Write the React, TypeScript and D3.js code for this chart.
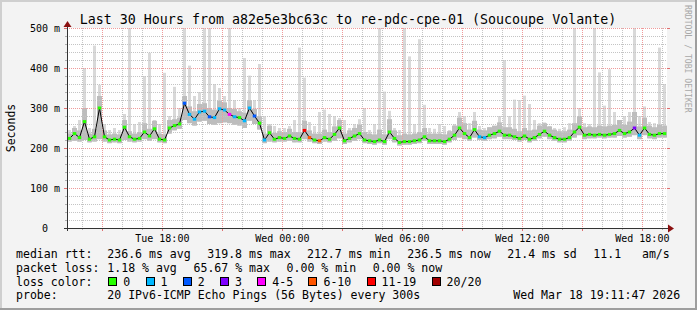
import React from "react";
import * as d3 from "d3";

// ---- data (15-minute bins over the last 30 hours) ----
const medianRtt = [
  224, 236, 226, 266, 222, 228, 300, 228, 220, 222,
  220, 252, 228, 222, 224, 240, 230, 248, 222, 220,
  250, 256, 260, 312, 284, 272, 290, 292, 278, 276,
  298, 295, 284, 278, 276, 268, 300, 280, 262, 220,
  238, 222, 226, 224, 230, 224, 222, 244, 226, 220,
  218, 226, 222, 234, 250, 218, 224, 230, 236, 220,
  218, 216, 220, 216, 240, 224, 214, 216, 216, 218,
  220, 228, 218, 218, 218, 216, 222, 232, 250, 236,
  226, 246, 228, 226, 232, 236, 242, 232, 232, 228,
  224, 230, 222, 226, 234, 242, 232, 226, 222, 222,
  226, 240, 252, 232, 234, 232, 234, 232, 234, 236,
  244, 236, 240, 250, 232, 250, 234, 232, 236, 236,
];

const lossPings = [
  0, 0, 0, 0, 0, 0, 0, 0, 0, 0,
  0, 0, 0, 0, 0, 0, 0, 0, 0, 0,
  0, 0, 0, 2, 1, 1, 1, 1, 2, 1,
  1, 1, 4, 1, 0, 1, 1, 2, 0, 1,
  0, 0, 0, 0, 0, 0, 0, 15, 8, 0,
  8, 0, 0, 0, 0, 0, 0, 0, 0, 0,
  0, 0, 0, 0, 0, 0, 0, 0, 0, 0,
  0, 0, 0, 0, 0, 0, 0, 0, 0, 0,
  0, 0, 1, 1, 0, 0, 0, 0, 0, 0,
  0, 0, 0, 0, 0, 0, 0, 0, 0, 0,
  0, 0, 0, 0, 0, 0, 0, 0, 0, 0,
  0, 0, 0, 3, 1, 0, 0, 0, 0, 0,
];

const smokeLo = [
  216, 218, 216, 220, 214, 216, 222, 216, 212, 214,
  212, 220, 216, 214, 216, 222, 218, 222, 214, 212,
  236, 244, 248, 270, 262, 256, 266, 268, 260, 258,
  262, 264, 262, 258, 256, 250, 268, 260, 246, 212,
  216, 214, 216, 216, 218, 214, 214, 222, 216, 212,
  210, 216, 214, 218, 224, 210, 214, 218, 222, 212,
  210, 208, 212, 208, 222, 214, 206, 208, 208, 210,
  212, 218, 210, 210, 210, 208, 214, 220, 226, 222,
  218, 226, 220, 218, 222, 224, 228, 222, 222, 220,
  216, 220, 214, 218, 224, 228, 222, 218, 214, 214,
  218, 226, 232, 222, 224, 224, 226, 224, 226, 226,
  230, 226, 228, 232, 222, 232, 224, 222, 226, 226,
];

const smokeHi = [
  236, 250, 244, 300, 236, 248, 330, 244, 234, 236,
  234, 270, 242, 236, 240, 262, 248, 268, 236, 234,
  270, 272, 276, 330, 304, 292, 310, 312, 300, 296,
  318, 314, 300, 298, 292, 288, 320, 298, 280, 236,
  256, 238, 242, 240, 248, 240, 240, 268, 244, 236,
  236, 246, 240, 254, 270, 236, 244, 250, 258, 240,
  236, 234, 246, 234, 272, 244, 232, 236, 234, 236,
  240, 250, 236, 236, 236, 234, 242, 256, 276, 262,
  246, 268, 246, 244, 252, 256, 264, 252, 252, 248,
  242, 250, 244, 246, 256, 262, 254, 246, 242, 242,
  246, 262, 280, 252, 254, 252, 256, 254, 256, 258,
  270, 258, 266, 290, 254, 276, 256, 252, 258, 256,
];

const pingMax = [
  245, 255, 270, 400, 250, 456, 358, 260, 245, 250,
  245, 285, 500, 260, 265, 380, 438, 270, 260, 388,
  280, 353, 300, 500, 406, 330, 340, 500, 500, 360,
  350, 330, 500, 320, 300, 425, 381, 320, 410, 280,
  260, 255, 250, 250, 255, 270, 451, 376, 265, 255,
  290, 296, 285, 280, 275, 270, 250, 260, 272, 300,
  245, 260, 500, 341, 293, 250, 245, 500, 429, 260,
  472, 308, 250, 248, 260, 255, 245, 260, 290, 280,
  262, 290, 255, 250, 252, 255, 280, 420, 280, 321,
  320, 331, 310, 270, 262, 264, 255, 250, 248, 252,
  262, 500, 300, 262, 260, 500, 389, 306, 397, 290,
  265, 280, 290, 500, 280, 304, 265, 262, 451, 360,
];

const yTickValues = [0, 100, 200, 300, 400, 500];
const yTickLabels = ["0", "100 m", "200 m", "300 m", "400 m", "500 m"];
const xTickTimes = [
  new Date(2026, 2, 17, 18, 0, 0),
  new Date(2026, 2, 18, 0, 0, 0),
  new Date(2026, 2, 18, 6, 0, 0),
  new Date(2026, 2, 18, 12, 0, 0),
  new Date(2026, 2, 18, 18, 0, 0),
];
const xTickLabels = ["Tue 18:00", "Wed 00:00", "Wed 06:00", "Wed 12:00", "Wed 18:00"];

const lossLabels = ["0", "1", "2", "3", "4-5", "6-10", "11-19", "20/20"];
const lossUpper = [0, 1, 2, 3, 5, 10, 19, 20];
const lossColors = ["#26ff00", "#00b8ff", "#0059ff", "#7e00ff", "#ff00ff", "#ff5500", "#ff0000", "#a10000"];

const titleText = "Last 30 Hours from a82e5e3bc63c to re-pdc-cpe-01 (Soucoupe Volante)";
const legendRow1 = ["median rtt:", "236.6 ms avg", "319.8 ms max", "212.7 ms min", "236.5 ms now", "21.4 ms sd", "11.1   am/s"];
const legendRow2 = ["packet loss:", "1.18 % avg", "65.67 % max", "0.00 % min", "0.00 % now"];
const probeText = "20 IPv6-ICMP Echo Pings (56 Bytes) every 300s";
const stampText = "Wed Mar 18 19:11:47 2026";

const START = new Date(2026, 2, 17, 13, 14, 0);
const END = new Date(2026, 2, 18, 19, 14, 0);
const STEP_MS = 15 * 60 * 1000;

const MONO = "'DejaVu Sans Mono', monospace";

export default function App() {
  const W = 697;
  const H = 310;
  const x = d3.scaleTime().domain([START, END]).range([67, 667]);
  const y = d3.scaleLinear().domain([0, 500]).range([228, 28]);
  const clampY = (v: number) => y(Math.min(v, 500));

  const t = (i: number) => new Date(START.getTime() + i * STEP_MS);
  const tm = (i: number) => new Date(START.getTime() + (i + 0.5) * STEP_MS);

  const hourTicks = x.ticks(d3.timeHour.every(1) as any) as Date[];
  const minorY = d3.range(20, 500, 20).filter((v) => v % 100 !== 0);

  const lossColor = (n: number) => {
    const k = lossUpper.findIndex((u) => n <= u);
    return lossColors[k < 0 ? lossColors.length - 1 : k];
  };

  const medianLine = d3
    .line<number>()
    .x((_, i) => x(tm(i)))
    .y((d) => y(d));

  const row1X = [16, 107.3, 207.3, 307, 407.3, 507.3, 593.3];
  const row2X = [16, 107.3, 193.5, 286.6, 372.7];

  const charW = 6.95;
  const swX: number[] = [];
  let cx = 108.3;
  lossLabels.forEach((lab) => {
    swX.push(cx);
    cx += 15 + lab.length * charW + 15.3;
  });

  return (
    <div style={{ position: "fixed", left: 0, top: 0 }}>
      <svg width={W} height={H} style={{ display: "block" }}>
        <rect x={0} y={0} width={W} height={H} fill="#f3f3f3" />
        <rect x={0} y={0} width={W} height={2} fill="#cfcfcf" />
        <rect x={0} y={0} width={2} height={H} fill="#cfcfcf" />
        <rect x={W - 2} y={0} width={2} height={H} fill="#9e9e9e" />
        <rect x={0} y={H - 2} width={W} height={2} fill="#9e9e9e" />

        <rect x={67} y={28} width={600} height={200} fill="#ffffff" />

        {/* smoke: outliers (narrow spikes) */}
        {pingMax.map((v, i) => (
          <rect
            key={"m" + i}
            x={x(tm(i)) - 1.5}
            width={3}
            y={clampY(v)}
            height={y(smokeLo[i]) - clampY(v)}
            fill="#d9d9d9"
          />
        ))}
        {/* smoke: core */}
        {smokeHi.map((v, i) => (
          <rect
            key={"h" + i}
            x={x(t(i))}
            width={x(t(i + 1)) - x(t(i))}
            y={y(v)}
            height={y(smokeLo[i]) - y(v)}
            fill="#bdbdbd"
          />
        ))}

        {/* minor grid */}
        {minorY.map((v) => (
          <line key={"gy" + v} x1={67} x2={667} y1={y(v) + 0.5} y2={y(v) + 0.5}
            stroke="#c4c4c4" strokeDasharray="1,1" />
        ))}
        {hourTicks.filter((d) => d.getHours() % 3 !== 0).map((d) => {
          const px = Math.round(x(d)) + 0.5;
          return (
            <g key={"gx" + d.getTime()}>
              <line x1={px} x2={px} y1={28} y2={228} stroke="#c4c4c4" strokeDasharray="1,1" />
              <line x1={px} x2={px} y1={228} y2={230} stroke="#b0b0b0" />
            </g>
          );
        })}
        {/* major grid */}
        {yTickValues.filter((v) => v > 0).map((v) => (
          <g key={"my" + v}>
            <line x1={67} x2={667} y1={y(v) + 0.5} y2={y(v) + 0.5}
              stroke="#f09a9a" strokeDasharray="1,1" />
            <line x1={64} x2={67} y1={y(v) + 0.5} y2={y(v) + 0.5} stroke="#e07070" />
            <line x1={667} x2={670} y1={y(v) + 0.5} y2={y(v) + 0.5} stroke="#e07070" />
          </g>
        ))}
        {minorY.map((v) => (
          <line key={"ty" + v} x1={65} x2={67} y1={y(v) + 0.5} y2={y(v) + 0.5} stroke="#b0b0b0" />
        ))}
        {hourTicks.filter((d) => d.getHours() % 3 === 0).map((d) => {
          const px = Math.round(x(d)) + 0.5;
          return (
            <g key={"mx" + d.getTime()}>
              <line x1={px} x2={px} y1={28} y2={228} stroke="#f09a9a" strokeDasharray="1,1" />
              <line x1={px} x2={px} y1={228} y2={231} stroke="#e07070" />
            </g>
          );
        })}

        {/* median line */}
        <path d={medianLine(medianRtt) || ""} fill="none" stroke="#000" strokeWidth={1} />
        {medianRtt.map((v, i) => {
          const mx = x(tm(i));
          return (
            <line key={"c" + i} x1={mx - 1.75} x2={mx + 1.75} y1={y(v)} y2={y(v)}
              stroke={lossColor(lossPings[i])} strokeWidth={3} />
          );
        })}

        {/* axes */}
        <line x1={64} x2={669} y1={228.5} y2={228.5} stroke="#333" />
        <line x1={67.5} x2={67.5} y1={231} y2={25} stroke="#333" />
        <path d="M668,224.5 L674,228.5 L668,232.5 Z" fill="#8b1010" />
        <path d="M63.5,27 L67.5,21 L71.5,27 Z" fill="#8b1010" />

        {yTickValues.map((v, i) => (
          <text key={"yl" + v} x={v === 0 ? 48 : 60} y={y(v) + 4} textAnchor="end"
            fontFamily={MONO} fontSize={10} fill="#000">{yTickLabels[i]}</text>
        ))}
        {xTickTimes.map((d, i) => (
          <text key={"xl" + i} x={x(d)} y={241.5} textAnchor="middle"
            fontFamily={MONO} fontSize={10} fill="#000">{xTickLabels[i]}</text>
        ))}

        <text x={348} y={24} textAnchor="middle" fontFamily={MONO} fontSize={13.3} fill="#000">
          {titleText}
        </text>
        <text transform="translate(15,128) rotate(-90)" textAnchor="middle"
          fontFamily={MONO} fontSize={11.5} fill="#000">Seconds</text>
        <text transform="translate(685,5) rotate(90)" textAnchor="start"
          fontFamily={MONO} fontSize={8.15} fill="#a8a8a8">RRDTOOL / TOBI OETIKER</text>

        {legendRow1.map((s, i) => (
          <text key={"l1" + i} x={row1X[i]} y={258.3} fontFamily={MONO} fontSize={11.55}
            fill="#000" style={{ whiteSpace: "pre" }}>{s}</text>
        ))}
        {legendRow2.map((s, i) => (
          <text key={"l2" + i} x={row2X[i]} y={272} fontFamily={MONO} fontSize={11.55}
            fill="#000" style={{ whiteSpace: "pre" }}>{s}</text>
        ))}
        <text x={16} y={285.7} fontFamily={MONO} fontSize={11.55} fill="#000">loss color:</text>
        {lossLabels.map((lab, i) => (
          <g key={"sw" + i}>
            <rect x={Math.round(swX[i]) + 0.5} y={277.5} width={8} height={8}
              fill={lossColors[i]} stroke="#000" strokeWidth={1} />
            <text x={swX[i] + 15} y={285.7} fontFamily={MONO} fontSize={11.55} fill="#000">{lab}</text>
          </g>
        ))}
        <text x={16} y={299.4} fontFamily={MONO} fontSize={11.55} fill="#000">probe:</text>
        <text x={107.3} y={299.4} fontFamily={MONO} fontSize={11.55} fill="#000">{probeText}</text>
        <text x={513.3} y={299.4} fontFamily={MONO} fontSize={11.55} fill="#000">{stampText}</text>
      </svg>
    </div>
  );
}
